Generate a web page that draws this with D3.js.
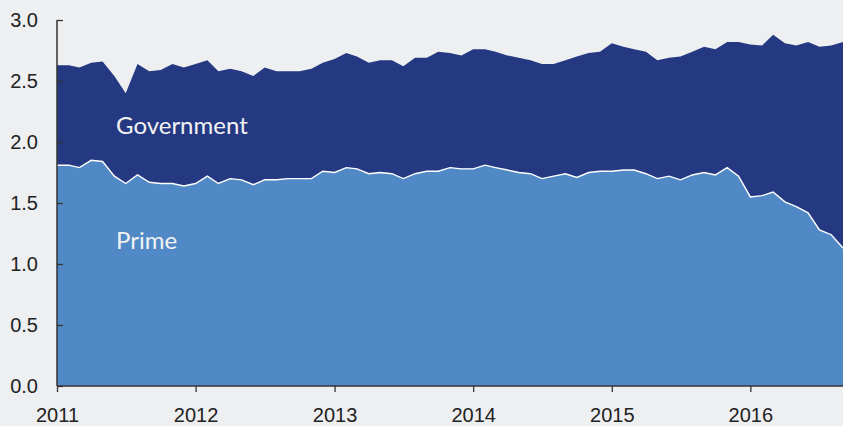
<!DOCTYPE html>
<html>
<head>
<meta charset="utf-8">
<script src="https://cdn.jsdelivr.net/npm/d3@7"></script>
<style>
  html, body { margin: 0; padding: 0; background: #eeeff1; }
  svg { display: block; font-family: Lato, "Open Sans", sans-serif; }
</style>
</head>
<body>
<div id="chart"></div>
<script>
  // Monthly data, Jan 2011 - Sep 2016
  var startMonth = new Date(2011, 0, 1);
  var prime = [1.81, 1.81, 1.79, 1.85, 1.84, 1.72, 1.66, 1.73, 1.67, 1.66, 1.66, 1.64,
               1.66, 1.72, 1.66, 1.70, 1.69, 1.65, 1.69, 1.69, 1.70, 1.70, 1.70, 1.76,
               1.75, 1.79, 1.78, 1.74, 1.75, 1.74, 1.70, 1.74, 1.76, 1.76, 1.79, 1.78,
               1.78, 1.81, 1.79, 1.77, 1.75, 1.74, 1.70, 1.72, 1.74, 1.71, 1.75, 1.76,
               1.76, 1.77, 1.77, 1.74, 1.70, 1.72, 1.69, 1.73, 1.75, 1.73, 1.79, 1.72,
               1.55, 1.56, 1.59, 1.51, 1.47, 1.42, 1.28, 1.24, 1.13];
  var government = [0.82, 0.82, 0.82, 0.80, 0.82, 0.82, 0.74, 0.91, 0.91, 0.93, 0.98, 0.97,
                    0.98, 0.95, 0.92, 0.90, 0.89, 0.89, 0.92, 0.89, 0.88, 0.88, 0.90, 0.89,
                    0.93, 0.94, 0.92, 0.91, 0.92, 0.93, 0.92, 0.95, 0.93, 0.98, 0.94, 0.93,
                    0.98, 0.95, 0.95, 0.94, 0.94, 0.93, 0.94, 0.92, 0.93, 0.99, 0.98, 0.98,
                    1.05, 1.01, 0.99, 1.00, 0.97, 0.97, 1.01, 1.01, 1.03, 1.03, 1.03, 1.10,
                    1.25, 1.23, 1.29, 1.30, 1.32, 1.40, 1.50, 1.55, 1.69];
  var seriesKeys = ["prime", "government"];
  var seriesColors = { prime: "#5089c6", government: "#253982" };
  var seriesLabels = { prime: "Prime", government: "Government" };
  var yTicks = [0, 0.5, 1.0, 1.5, 2.0, 2.5, 3.0];
  var xTickYears = [2011, 2012, 2013, 2014, 2015, 2016];

  var width = 843, height = 426;
  var margin = { top: 20, right: 0, bottom: 40, left: 57 };

  // build rows for d3.stack
  var rows = prime.map(function(p, i) {
    return { date: d3.timeMonth.offset(startMonth, i), prime: p, government: government[i] };
  });

  var xScale = d3.scaleTime()
                 .domain([rows[0].date, rows[rows.length - 1].date])
                 .range([margin.left, width - margin.right]);
  var yScale = d3.scaleLinear()
                 .domain([0, 3])
                 .range([height - margin.bottom, margin.top]);

  var svg = d3.select("#chart").append("svg")
              .attr("width", width)
              .attr("height", height);

  var stacked = d3.stack().keys(seriesKeys)(rows);

  var area = d3.area()
               .x(function(d) { return xScale(d.data.date); })
               .y0(function(d) { return yScale(d[0]); })
               .y1(function(d) { return yScale(d[1]); });

  svg.selectAll("path.layer")
     .data(stacked)
     .enter()
     .append("path")
     .attr("class", "layer")
     .attr("fill", function(d) { return seriesColors[d.key]; })
     .attr("d", area);

  // white line on top of prime
  var primeLine = d3.line()
                    .x(function(d) { return xScale(d.data.date); })
                    .y(function(d) { return yScale(d[1]); });
  svg.append("path")
     .datum(stacked[0])
     .attr("fill", "none")
     .attr("stroke", "#ffffff")
     .attr("stroke-width", 1.4)
     .attr("d", primeLine);

  // Series labels
  svg.append("text")
     .attr("x", 116).attr("y", 134)
     .attr("fill", "#f2f2f2")
     .style("font-size", "24px")
     .text(seriesLabels.government);
  svg.append("text")
     .attr("x", 116).attr("y", 249)
     .attr("fill", "#f2f2f2")
     .style("font-size", "24px")
     .text(seriesLabels.prime);

  // Y axis (ticks point inward)
  var yAxis = d3.axisRight(yScale)
                .tickValues(yTicks)
                .tickSize(6)
                .tickFormat(d3.format(".1f"));
  var yG = svg.append("g")
              .attr("transform", "translate(" + margin.left + ",0)")
              .call(yAxis);
  yG.select(".domain").attr("stroke", "#333").attr("stroke-width", 1.5)
    .attr("d", "M0," + yScale(3) + "V" + yScale(0));
  yG.selectAll(".tick line").attr("stroke", "#333").attr("stroke-width", 1.3);
  yG.selectAll(".tick text")
    .attr("x", -19)
    .attr("text-anchor", "end")
    .attr("fill", "#222")
    .style("font-size", "20px");

  // X axis
  var xAxis = d3.axisBottom(xScale)
                .tickValues(xTickYears.map(function(y) { return new Date(y, 0, 1); }))
                .tickSize(6)
                .tickFormat(d3.timeFormat("%Y"));
  var xG = svg.append("g")
              .attr("transform", "translate(0," + yScale(0) + ")")
              .call(xAxis);
  xG.select(".domain").attr("stroke", "#333").attr("stroke-width", 1.5)
    .attr("d", "M" + margin.left + ",0H" + width);
  xG.selectAll(".tick line").attr("stroke", "#333").attr("stroke-width", 1.3);
  xG.selectAll(".tick text")
    .attr("y", 36)
    .attr("dy", null)
    .attr("fill", "#222")
    .style("font-size", "20px");
</script>
</body>
</html>
